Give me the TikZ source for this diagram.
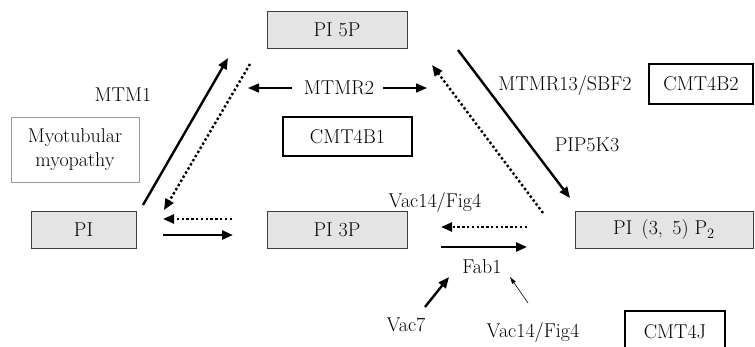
\documentclass[tikz,border=0pt]{standalone}
\usepackage{fontspec}
\usepackage{tikz}
\usetikzlibrary{arrows.meta, positioning}
\definecolor{boxgray}{RGB}{228,228,228}
\tikzset{
    compbox/.style={
        rectangle,
        draw=black!75,
        fill=boxgray,
        line width=0.8pt,
        minimum height=37pt,
        align=center
    },
    diseasebox/.style={
        rectangle,
        draw=black,
        line width=2.2pt,
        minimum height=39pt,
        align=center
    },
    notebox/.style={
        rectangle,
        draw=black!40,
        line width=0.8pt,
        align=center
    },
    conv/.style={
        -{Triangle[length=11pt,width=9pt]},
        line width=2.4pt
    },
    dotconv/.style={
        -{Triangle[length=11pt,width=9pt]},
        line width=2.4pt,
        dash pattern=on 2.4pt off 2.4pt
    },
    thinconv/.style={
        -{Triangle[length=7pt,width=4pt]},
        line width=0.6pt
    }
}

\begin{document}
\begin{tikzpicture}[x=1pt, y=-1pt, every node/.style={font=\fontsize{20}{24}\selectfont, inner sep=0pt}]
    \useasboundingbox (0,0) rectangle (755,346);
    % lipids
    \node[compbox, minimum width=140pt] (pi5p) at (337,30) {PI 5P};
    \node[compbox, minimum width=105pt] (pi) at (83.5,229.5) {PI};
    \node[compbox, minimum width=140pt] (pi3p) at (337,229.5) {PI 3P};
    \node[compbox, minimum width=178pt] (pi35) at (664,230) {PI\ \,(3,\ \,5)\ P$_2$};
    % diseases
    \node[notebox, minimum width=128pt, minimum height=65pt] (myo) at (75,149.5) {Myotubular\\myopathy};
    \node[diseasebox, minimum width=129pt] (cmtb1) at (347.5,136.5) {CMT4B1};
    \node[diseasebox, minimum width=104pt, minimum height=40pt] (cmtb2) at (701,84) {CMT4B2};
    \node[diseasebox, minimum width=100pt, minimum height=42pt] (cmtj) at (675,332) {CMT4J};
    % enzymes
    \node (mtm1) at (123,95) {MTM1};
    \node (mtmr2) at (339,88) {MTMR2};
    \node (mtmr13) at (565,85) {MTMR13/SBF2};
    \node (pip5k3) at (587,145) {PIP5K3};
    \node (vacfig) at (435,202) {Vac14/Fig4};
    \node (fab1) at (482,267) {Fab1};
    \node (vac7) at (406,325) {Vac7};
    \node (vacfigb) at (533,332) {Vac14/Fig4};
    % arrow ends
    \coordinate (a1) at (143,205);   \coordinate (a2) at (228,58);
    \coordinate (b1) at (250,64);    \coordinate (b2) at (164,210);
    \coordinate (c1) at (458,50);    \coordinate (c2) at (570,198);
    \coordinate (d1) at (543,213);   \coordinate (d2) at (432,65);
    \coordinate (e1) at (232,219);   \coordinate (e2) at (163,219);
    \coordinate (f1) at (163,235);   \coordinate (f2) at (233,235);
    \coordinate (g1) at (527,227);   \coordinate (g2) at (441,227);
    \coordinate (h1) at (441,247);   \coordinate (h2) at (527,247);
    \coordinate (k1) at (425,307);   \coordinate (k2) at (449,277);
    \coordinate (m1) at (528,303);   \coordinate (m2) at (510,277);
    \coordinate (n1) at (292,88);    \coordinate (n2) at (248,88);
    \coordinate (p1) at (383,88);    \coordinate (p2) at (427,88);
    % connectors
    \draw[conv] (a1) -- (a2);
    \draw[dotconv] (b1) -- (b2);
    \draw[conv] (c1) -- (c2);
    \draw[dotconv] (d1) -- (d2);
    \draw[dotconv] (e1) -- (e2);
    \draw[conv] (f1) -- (f2);
    \draw[dotconv] (g1) -- (g2);
    \draw[conv] (h1) -- (h2);
    \draw[conv, line width=1.6pt] (n1) -- (n2);
    \draw[conv, line width=1.6pt] (p1) -- (p2);
    \draw[conv] (k1) -- (k2);
    \draw[thinconv] (m1) -- (m2);
\end{tikzpicture}
\end{document}
